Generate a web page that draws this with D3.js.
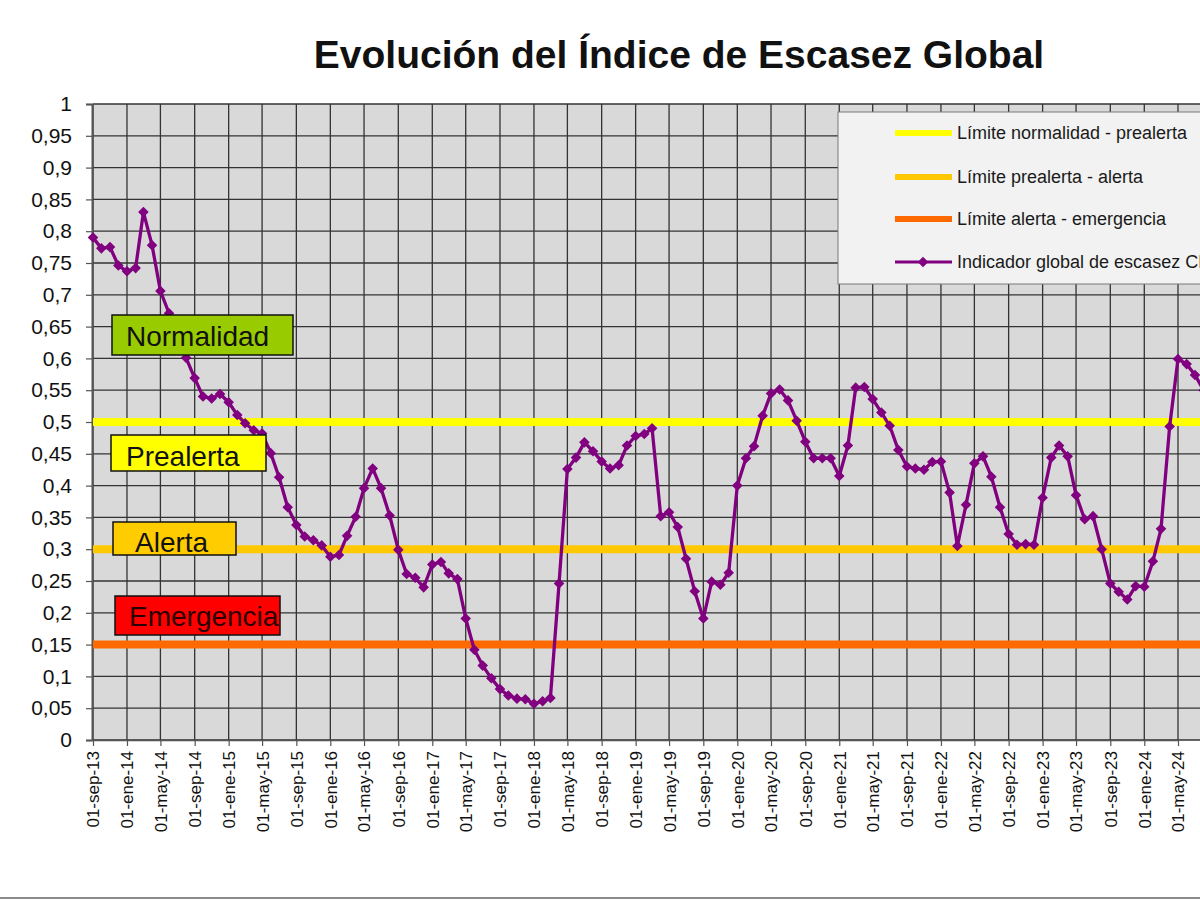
<!DOCTYPE html>
<html>
<head>
<meta charset="utf-8">
<script src="https://cdn.jsdelivr.net/npm/d3@7"></script>
<style>
  body { margin: 0; background: #fff; }
  svg { display: block; font-family: "Liberation Sans", Arial, sans-serif; }
</style>
</head>
<body>
<svg id="chart" width="1200" height="900"></svg>
<script>
// Data
const firstMonth = "2013-09-01"

// monthly values of the indicator, from sep-13 on
const values = [
  0.790, 0.773, 0.775, 0.746, 0.737, 0.742, 0.830, 0.778, 0.706, 0.671, 0.635, 0.601,
  0.569, 0.540, 0.537, 0.544, 0.531, 0.511, 0.498, 0.487, 0.482, 0.451, 0.413, 0.366,
  0.338, 0.320, 0.314, 0.306, 0.288, 0.291, 0.321, 0.351, 0.396, 0.427, 0.396, 0.353,
  0.299, 0.261, 0.255, 0.240, 0.276, 0.280, 0.262, 0.253, 0.191, 0.142, 0.117, 0.097,
  0.080, 0.070, 0.065, 0.064, 0.057, 0.061, 0.066, 0.246, 0.426, 0.444, 0.468, 0.454,
  0.438, 0.427, 0.432, 0.463, 0.478, 0.481, 0.490, 0.352, 0.358, 0.335, 0.285, 0.234,
  0.191, 0.249, 0.244, 0.263, 0.400, 0.443, 0.462, 0.510, 0.545, 0.551, 0.534, 0.502,
  0.469, 0.443, 0.443, 0.443, 0.415, 0.463, 0.554, 0.555, 0.536, 0.515, 0.494, 0.456,
  0.430, 0.427, 0.425, 0.437, 0.438, 0.389, 0.305, 0.370, 0.435, 0.446, 0.414, 0.366,
  0.324, 0.307, 0.308, 0.307, 0.381, 0.444, 0.463, 0.446, 0.385, 0.347, 0.352, 0.300,
  0.246, 0.233, 0.221, 0.242, 0.241, 0.281, 0.332, 0.493, 0.599, 0.591, 0.574, 0.550
]

const xTickLabels = [
  "01-sep-13", "01-ene-14", "01-may-14", "01-sep-14", "01-ene-15", "01-may-15",
  "01-sep-15", "01-ene-16", "01-may-16", "01-sep-16", "01-ene-17", "01-may-17",
  "01-sep-17", "01-ene-18", "01-may-18", "01-sep-18", "01-ene-19", "01-may-19",
  "01-sep-19", "01-ene-20", "01-may-20", "01-sep-20", "01-ene-21", "01-may-21",
  "01-sep-21", "01-ene-22", "01-may-22", "01-sep-22", "01-ene-23", "01-may-23",
  "01-sep-23", "01-ene-24", "01-may-24"
]

const yTicks = [0, 0.05, 0.1, 0.15, 0.2, 0.25, 0.3, 0.35, 0.4, 0.45, 0.5,
  0.55, 0.6, 0.65, 0.7, 0.75, 0.8, 0.85, 0.9, 0.95, 1]

const thresholdNames = ["Límite normalidad - prealerta", "Límite prealerta - alerta", "Límite alerta - emergencia"]
const thresholdValues = [0.5, 0.3, 0.15]

const seriesName = "Indicador global de escasez CHS"
const zoneNames = ["Normalidad", "Prealerta", "Alerta", "Emergencia"]

const title = "Evolución del Índice de Escasez Global"

// Layout / styles
const plotLeft = 93,
  plotTop = 104,
  plotBottom = 740,
  plotRight = 1240

const thresholdColors = ["#ffff00", "#ffc800", "#ff6a00"]
const seriesColor = "#800080"
const zoneStyles = [
  { fill: "#99cc00", box: [112, 315, 181, 40], text: [126, 346] },
  { fill: "#ffff00", box: [111, 435, 155, 36], text: [126, 466] },
  { fill: "#ffcc00", box: [113, 522, 123, 33], text: [135, 552] },
  { fill: "#ff0000", box: [115, 596, 165, 39], text: [129, 626] }
]

const monthIndex = { ene: 0, feb: 1, mar: 2, abr: 3, may: 4, jun: 5, jul: 6, ago: 7, sep: 8, oct: 9, nov: 10, dic: 11 }
const parseLabel = (s) => {
  const [d, m, y] = s.split("-")
  return new Date(2000 + +y, monthIndex[m], +d)
}

const start = d3.timeParse("%Y-%m-%d")(firstMonth)
const points = values.map((v, i) => ({ date: d3.timeMonth.offset(start, i), value: v }))
const tickDates = xTickLabels.map(parseLabel)

const x = d3
  .scaleTime()
  .domain([tickDates[0], tickDates[tickDates.length - 1]])
  .range([plotLeft, 1178])

const y = d3.scaleLinear().domain([0, 1]).range([plotBottom, plotTop])

const esFormat = d3.formatLocale({ decimal: ",", thousands: ".", grouping: [3], currency: ["", "€"] }).format(".2~f")

const svg = d3.select("#chart")

// Title
svg
  .append("text")
  .attr("x", 679)
  .attr("y", 68)
  .attr("text-anchor", "middle")
  .style("font-size", "39px")
  .style("font-weight", "bold")
  .style("fill", "#111")
  .text(title)

// Plot background
svg
  .append("rect")
  .attr("x", plotLeft)
  .attr("y", plotTop)
  .attr("width", plotRight - plotLeft)
  .attr("height", plotBottom - plotTop)
  .style("fill", "#d9d9d9")

// Grid
const grid = svg.append("g")
grid
  .selectAll(".hgrid")
  .data(yTicks)
  .join("line")
  .attr("class", "hgrid")
  .attr("x1", plotLeft)
  .attr("x2", plotRight)
  .attr("y1", (d) => y(d))
  .attr("y2", (d) => y(d))
  .style("stroke", "#333")
  .style("stroke-width", 1.3)

grid
  .selectAll(".vgrid")
  .data(tickDates)
  .join("line")
  .attr("class", "vgrid")
  .attr("x1", (d) => x(d))
  .attr("x2", (d) => x(d))
  .attr("y1", plotTop)
  .attr("y2", plotBottom)
  .style("stroke", "#333")
  .style("stroke-width", 1.3)

// Axes
const yAxis = svg
  .append("g")
  .attr("transform", `translate(${plotLeft - 1},0)`)
  .call(d3.axisLeft(y).tickValues(yTicks).tickFormat(esFormat).tickSize(6).tickPadding(14))
  .attr("font-size", 21)
  .attr("font-family", "Liberation Sans, Arial, sans-serif")
yAxis.select(".domain").style("stroke", "#555").style("stroke-width", 2)
yAxis.selectAll(".tick line").style("stroke", "#555").style("stroke-width", 1.2)
yAxis.selectAll(".tick text").style("font-size", "21px").style("fill", "#111")

const xAxis = svg
  .append("g")
  .attr("transform", `translate(0,${plotBottom})`)
  .call(
    d3
      .axisBottom(x)
      .tickValues(tickDates)
      .tickFormat((d, i) => xTickLabels[i])
      .tickSize(6)
      .tickSizeOuter(0)
  )
  .attr("font-size", 17)
  .attr("font-family", "Liberation Sans, Arial, sans-serif")
xAxis.select(".domain").style("stroke", "#555").style("stroke-width", 1.5)
xAxis.selectAll(".tick line").style("stroke", "#555").style("stroke-width", 1.2)
xAxis
  .selectAll(".tick text")
  .attr("transform", "rotate(-90)")
  .attr("text-anchor", "end")
  .attr("x", -11)
  .attr("y", 0)
  .attr("dy", "0.35em")
  .style("font-size", "17px")
  .style("fill", "#111")

// Threshold lines
svg
  .append("g")
  .selectAll("line")
  .data(thresholdValues)
  .join("line")
  .attr("x1", plotLeft)
  .attr("x2", plotRight)
  .attr("y1", (d) => y(d))
  .attr("y2", (d) => y(d))
  .style("stroke", (d, i) => thresholdColors[i])
  .style("stroke-width", 8)

// Series
const line = d3
  .line()
  .x((d) => x(d.date))
  .y((d) => y(d.value))

svg
  .append("path")
  .datum(points)
  .attr("d", line)
  .style("fill", "none")
  .style("stroke", seriesColor)
  .style("stroke-width", 3.3)
  .style("stroke-linejoin", "round")

const diamond = d3.symbol().type(d3.symbolSquare).size(56)
svg
  .append("g")
  .selectAll("path")
  .data(points)
  .join("path")
  .attr("d", diamond)
  .attr("transform", (d) => `translate(${x(d.date)},${y(d.value)}) rotate(45)`)
  .style("fill", seriesColor)

// Zone labels
const zones = svg
  .append("g")
  .selectAll("g")
  .data(zoneNames)
  .join("g")

zones
  .append("rect")
  .attr("x", (d, i) => zoneStyles[i].box[0])
  .attr("y", (d, i) => zoneStyles[i].box[1])
  .attr("width", (d, i) => zoneStyles[i].box[2])
  .attr("height", (d, i) => zoneStyles[i].box[3])
  .style("fill", (d, i) => zoneStyles[i].fill)
  .style("stroke", "#111")
  .style("stroke-width", 1.5)

zones
  .append("text")
  .attr("x", (d, i) => zoneStyles[i].text[0])
  .attr("y", (d, i) => zoneStyles[i].text[1])
  .style("font-size", "28px")
  .style("fill", (d, i) => (i === 3 ? "#2a0000" : "#111"))
  .text((d) => d)

// Legend
const legend = svg.append("g")
legend
  .append("rect")
  .attr("x", 838)
  .attr("y", 112)
  .attr("width", 420)
  .attr("height", 172)
  .style("fill", "#f2f2f2")
  .style("stroke", "#7a7a7a")
  .style("stroke-width", 1)

const legendItems = thresholdNames.concat([seriesName])
const legendRows = [133, 177, 219, 262]

const item = legend
  .selectAll(".item")
  .data(legendItems)
  .join("g")
  .attr("class", "item")
  .attr("transform", (d, i) => `translate(0,${legendRows[i]})`)

item
  .append("line")
  .attr("x1", 895)
  .attr("x2", 952)
  .style("stroke", (d, i) => (i < 3 ? thresholdColors[i] : seriesColor))
  .style("stroke-width", (d, i) => (i < 3 ? 6 : 3))

item
  .filter((d, i) => i === 3)
  .append("path")
  .attr("d", diamond)
  .attr("transform", "translate(923,0) rotate(45)")
  .style("fill", seriesColor)

item
  .append("text")
  .attr("x", 957)
  .attr("dy", "0.35em")
  .style("font-size", "18px")
  .style("fill", "#1a1a1a")
  .text((d) => d)

// Frame line at the bottom of the slide
svg
  .append("line")
  .attr("x1", 0)
  .attr("x2", 1200)
  .attr("y1", 898)
  .attr("y2", 898)
  .style("stroke", "#8a8a8a")
  .style("stroke-width", 2)
</script>
</body>
</html>
